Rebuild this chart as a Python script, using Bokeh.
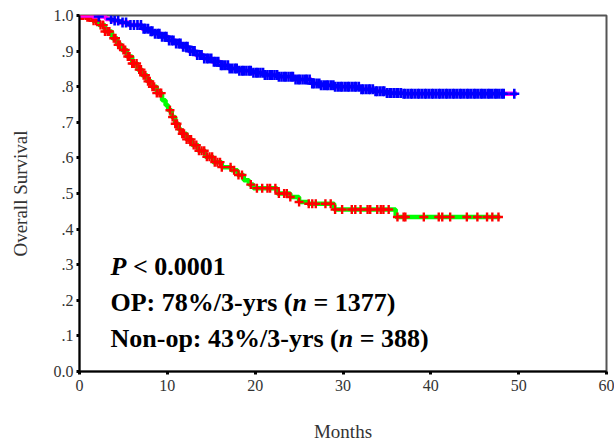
import numpy as np
from bokeh.plotting import figure
from bokeh.models import Range1d, FixedTicker, Label
from bokeh.embed import file_html
from bokeh.resources import INLINE

# ---- data ----
# OP group: step times (months) and survival after each step
op_t = [0, 1.5, 3.0, 3.7, 4.5, 5.6, 7.1, 7.9, 8.6, 9.3, 10.1, 10.9, 11.6, 12.4,
        13.2, 14.1, 15.1, 16.0, 17.0, 18.2, 19.6, 21.0, 22.7, 24.5, 26.4, 27.4,
        29.0, 32.0, 33.5, 35.0, 36.9, 49.8]
op_s = [1.0, 0.997, 0.990, 0.986, 0.980, 0.973, 0.963, 0.956, 0.949, 0.940, 0.930,
        0.921, 0.912, 0.900, 0.889, 0.879, 0.870, 0.860, 0.851, 0.845, 0.839,
        0.833, 0.828, 0.820, 0.809, 0.804, 0.800, 0.793, 0.787, 0.782, 0.780, 0.780]
# Non-op group
nop_t = [0, 0.8, 1.5, 2.2, 2.9, 3.7, 4.3, 4.8, 5.4, 6.0, 6.6, 7.1, 7.7, 8.2, 8.8,
         9.4, 9.8, 10.1, 10.5, 10.9, 11.3, 11.6, 12.2, 12.8, 13.5, 14.3, 15.2,
         16.2, 17.3, 18.0, 18.7, 19.3, 19.8, 22.5, 24.0, 25.0, 26.0, 29.0, 36.0, 47.9]
nop_s = [1.0, 0.995, 0.985, 0.973, 0.955, 0.936, 0.918, 0.903, 0.885, 0.865, 0.848,
         0.832, 0.815, 0.800, 0.782, 0.762, 0.748, 0.734, 0.715, 0.696, 0.680,
         0.668, 0.652, 0.636, 0.620, 0.603, 0.588, 0.574, 0.565, 0.552, 0.537,
         0.525, 0.515, 0.500, 0.490, 0.476, 0.471, 0.455, 0.434, 0.434]
# censored observations (months)
op_cens = [2.2, 3.6, 4.0, 4.4, 4.9, 5.3, 5.8, 6.2, 6.6,
           7.0, 7.3, 7.5, 7.8, 8.1, 8.3, 8.6, 8.9, 9.1, 9.4, 9.7, 9.9, 10.2, 10.5,
           10.7, 11.0, 11.3, 11.5, 11.8, 12.1, 12.3, 12.6, 12.9, 13.1, 13.4, 13.7,
           13.9, 14.2, 14.5, 14.7, 15.0, 15.3, 15.5, 15.8, 16.1, 16.3, 16.6, 16.9,
           17.1, 17.4, 17.7, 17.9, 18.2, 18.5, 18.7, 19.0, 19.3, 19.5, 19.8, 20.1,
           20.3, 20.6, 20.9, 21.1, 21.4, 21.7, 21.9, 22.2, 22.5, 22.7, 23.0, 23.3,
           23.5, 23.8, 24.1, 24.3, 24.6, 24.9, 25.1, 25.4, 25.7, 25.9, 26.2, 26.5,
           26.7, 27.0, 27.3, 27.5, 27.8, 28.1, 28.3, 28.6, 28.9, 29.1, 29.4, 29.7,
           29.9, 30.2, 30.5, 30.7, 31.0, 31.3, 31.5, 31.8, 32.1, 32.3, 32.6, 32.9,
           33.1, 33.4, 33.7, 33.9, 34.2, 34.5, 34.7, 35.0, 35.3, 35.5, 35.8, 36.1,
           36.3, 36.6, 36.9, 37.1, 37.4, 37.7, 37.9, 38.2, 38.5, 38.7, 39.0, 39.3,
           39.5, 39.8, 40.1, 40.3, 40.6, 40.9, 41.1, 41.4, 41.7, 41.9, 42.2, 42.5,
           42.7, 43.0, 43.3, 43.5, 43.8, 44.1, 44.3, 44.6, 44.9, 45.1, 45.4, 45.7,
           45.9, 46.2, 46.5, 46.7, 47.0, 47.3, 47.5, 47.8, 48.1, 48.3, 49.5]
nop_cens = [0.2, 0.4, 0.7, 0.9, 1.1, 1.4, 1.6, 1.9, 2.4, 2.7, 2.9, 3.2, 3.4, 3.9,
            4.1, 4.4, 4.6, 5.0, 5.2, 5.5, 5.7, 6.0, 6.2, 6.5, 6.8, 7.0, 7.3, 7.5,
            7.8, 8.0, 8.3, 8.5, 8.8, 9.1, 9.3, 10.3, 10.6, 10.9, 11.1, 11.4, 11.7,
            11.9, 12.2, 12.5, 12.7, 13.0, 13.3, 13.6, 13.9, 14.2, 14.5, 14.8, 15.1,
            15.4, 15.7, 16.0, 16.2, 17.2, 17.6, 18.1, 18.5, 19.5, 20.2, 20.8, 21.4,
            21.7, 22.3, 22.7, 23.3, 23.6, 24.0, 25.0, 26.1, 26.5, 26.9, 28.0, 28.6,
            29.1, 29.9, 31.0, 31.4, 32.0, 32.8, 33.1, 33.9, 34.3, 34.6, 35.2, 36.2,
            36.9, 37.1, 39.2, 40.9, 41.3, 42.2, 44.1, 45.3, 46.4, 47.0, 47.7]

x_ticks = [0, 10, 20, 30, 40, 50, 60]
y_ticks = [0.0, 0.1, 0.2, 0.3, 0.4, 0.5, 0.6, 0.7, 0.8, 0.9, 1.0]
y_tick_labels = ["0.0", ".1", ".2", ".3", ".4", ".5", ".6", ".7", ".8", ".9", "1.0"]

x_title = "Months"
y_title = "Overall Survival"


def surv_at(ts, ss, c):
    ts = np.asarray(ts)
    ss = np.asarray(ss)
    idx = np.searchsorted(ts, np.asarray(c), side="right") - 1
    return ss[idx]


SERIF = "Liberation Serif"

p = figure(frame_width=527, frame_height=356, output_backend="svg",
           toolbar_location=None,
           x_range=Range1d(0, 60), y_range=Range1d(0, 1),
           min_border_left=79, min_border_top=15, min_border_right=8,
           min_border_bottom=70)
p.background_fill_color = "white"
p.border_fill_color = "white"
p.outline_line_color = "#555555"
p.outline_line_width = 2
p.grid.visible = False

# curves
p.step(nop_t, nop_s, mode="after", line_color="#00FF00", line_width=4.5)
p.scatter(nop_cens, surv_at(nop_t, nop_s, nop_cens), marker="cross", size=9,
          line_color="#FF0000", line_width=2.4)
p.step(op_t, op_s, mode="after", line_color="#FF00FF", line_width=4.5)
p.scatter(op_cens, surv_at(op_t, op_s, op_cens), marker="cross", size=10,
          line_color="#0000FF", line_width=2.6)

# axes
for ax in (p.xaxis[0], p.yaxis[0]):
    ax.axis_line_color = "black"
    ax.axis_line_width = 2
    ax.major_tick_line_color = "black"
    ax.major_tick_line_width = 3
    ax.major_tick_out = 3
    ax.major_tick_in = 0
    ax.minor_tick_line_color = None
    ax.major_label_text_font = SERIF
    ax.major_label_text_font_size = "16px"
    ax.major_label_text_color = "#333333"
    ax.axis_label_text_font = SERIF
    ax.axis_label_text_font_style = "normal"
    ax.axis_label_text_font_size = "19px"
    ax.axis_label_text_color = "#333333"

p.xaxis.ticker = FixedTicker(ticks=x_ticks)
p.yaxis.ticker = FixedTicker(ticks=y_ticks)
p.yaxis.major_label_overrides = {t: l for t, l in zip(y_ticks, y_tick_labels)}
p.xaxis.major_label_standoff = 5
p.yaxis.major_label_standoff = 3
p.yaxis.axis_label = y_title
p.yaxis.axis_label_standoff = 20
p.xaxis.axis_label = x_title
p.xaxis.axis_label_standoff = 27

# annotation text
FS = "26px"
x0 = 3.53


def seg(text, y, off, style):
    p.add_layout(Label(x=x0, y=y, x_offset=off, text=text, text_font=SERIF,
                       text_font_size=FS, text_font_style=style, text_color="black",
                       text_baseline="alphabetic", text_align="left"))


seg("P", 0.295, 0, "bold italic")
seg("< 0.0001", 0.295, 22.4, "bold")
seg("OP: 78%/3-yrs (", 0.194, 0, "bold")
seg("n", 0.194, 182.0, "bold italic")
seg("= 1377)", 0.194, 203.0, "bold")
seg("Non-op: 43%/3-yrs (", 0.093, 0, "bold")
seg("n", 0.093, 228.2, "bold italic")
seg("= 388)", 0.093, 249.2, "bold")

open("out.html", "w").write(file_html(p, INLINE))
